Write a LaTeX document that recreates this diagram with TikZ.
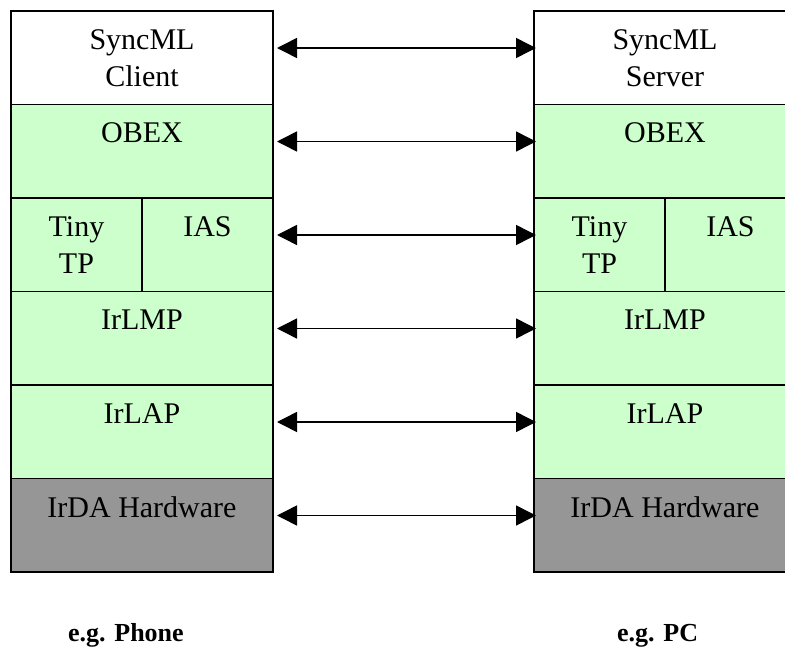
\documentclass[tikz,border=0pt]{standalone}
\usepackage{fontspec}
\setmainfont{Liberation Serif}
\usetikzlibrary{arrows.meta,
                calc,
                positioning}
\definecolor{layergreen}{HTML}{CCFFCC}
\definecolor{hwgray}{HTML}{969696}

\begin{document}
\begin{tikzpicture}[x=1pt,y=-1pt]
    \tikzset
    {
        base/.style = {draw,
                       line width = 1.2pt,
                       outer sep = 0pt,
                       inner sep = 0pt,
                       minimum width = 262pt,
                       minimum height = 93.5pt,
                       align = center,
                       font = \fontsize{30}{37}\selectfont},
        app/.style = {base,
                      fill = white},
        layer/.style = {base,
                        fill = layergreen},
        half/.style = {layer,
                       minimum width = 131pt},
        hw/.style = {base,
                     fill = hwgray},
        device/.style = {anchor = base west,
                         inner sep = 0pt,
                         font = \fontsize{26}{30}\selectfont\bfseries},
        link/.style = {line width = 1.5pt,
                       {Triangle[length=20pt,width=20pt]}-{Triangle[length=20pt,width=20pt]}}
    };

    \clip (0,0) rectangle (785,653);

    % Client (left)
    \node[app, anchor=north west] (cl sync) at (11,11) {SyncML\\Client};
    \node[layer] (cl obex) [below=0pt of cl sync] {OBEX\\\mbox{}};
    \node[half, anchor=north west] (cl tiny) at (cl obex.south west) {Tiny\\TP};
    \node[half] (cl ias) [right=0pt of cl tiny] {IAS\\\mbox{}};
    \node[layer, anchor=north west] (cl lmp) at (cl tiny.south west) {IrLMP\\\mbox{}};
    \node[layer] (cl lap) [below=0pt of cl lmp] {IrLAP\\\mbox{}};
    \node[hw] (cl hw) [below=0pt of cl lap] {IrDA Hardware\\\mbox{}};

    % Server (right)
    \node[app, anchor=north west] (sv sync) at (534,11) {SyncML\\Server};
    \node[layer] (sv obex) [below=0pt of sv sync] {OBEX\\\mbox{}};
    \node[half, anchor=north west] (sv tiny) at (sv obex.south west) {Tiny\\TP};
    \node[half] (sv ias) [right=0pt of sv tiny] {IAS\\\mbox{}};
    \node[layer, anchor=north west] (sv lmp) at (sv tiny.south west) {IrLMP\\\mbox{}};
    \node[layer] (sv lap) [below=0pt of sv lmp] {IrLAP\\\mbox{}};
    \node[hw] (sv hw) [below=0pt of sv lap] {IrDA Hardware\\\mbox{}};

    % Devices
    \node[device] (phone) at (68,641) {e.g. Phone};
    \node[device] (pc) at (617,641) {e.g. PC};

    % Peer links
    \foreach \lft/\rgt in {cl sync/sv sync, cl obex/sv obex, cl ias/sv tiny,
                           cl lmp/sv lmp, cl lap/sv lap, cl hw/sv hw}
        \draw[link] ($(\lft.north east)+(4,37)$) -- ($(\rgt.north west)+(2,37)$);

\end{tikzpicture}
\end{document}
